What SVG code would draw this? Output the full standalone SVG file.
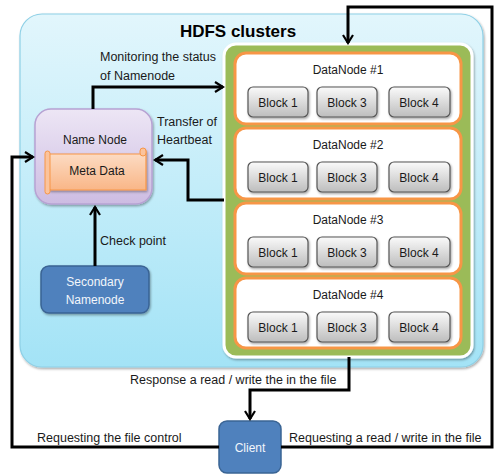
<svg xmlns="http://www.w3.org/2000/svg" width="494" height="474" viewBox="0 0 494 474">
  <defs>
    <linearGradient id="gCluster" x1="0" y1="0" x2="0" y2="1">
      <stop offset="0" stop-color="#E2F6FC"/>
      <stop offset="1" stop-color="#A3E3F6"/>
    </linearGradient>
    <linearGradient id="gBlock" x1="0" y1="0" x2="0" y2="1">
      <stop offset="0" stop-color="#FAFAFA"/>
      <stop offset="1" stop-color="#BDBDBD"/>
    </linearGradient>
    <linearGradient id="gName" x1="0" y1="0" x2="0" y2="1">
      <stop offset="0" stop-color="#EDE6F5"/>
      <stop offset="1" stop-color="#CDBCE2"/>
    </linearGradient>
    <linearGradient id="gMeta" x1="0" y1="0" x2="0" y2="1">
      <stop offset="0" stop-color="#FDE0CB"/>
      <stop offset="1" stop-color="#F9B687"/>
    </linearGradient>
    <filter id="shadow" x="-10%" y="-10%" width="125%" height="130%">
      <feDropShadow dx="1" dy="1.5" stdDeviation="1.2" flood-color="#000" flood-opacity="0.35"/>
    </filter>
    <marker id="arrow" viewBox="0 0 12 12" refX="10" refY="6" markerWidth="12" markerHeight="12" markerUnits="userSpaceOnUse" orient="auto">
      <path d="M2,1 L10,6 L2,11" fill="none" stroke="#000" stroke-width="2.2"/>
    </marker>
    <style>
      text { font-family: "Liberation Sans", Arial, sans-serif; font-size: 12px; fill: #1a1a1a; }
      .title { font-size: 17px; font-weight: bold; fill: #000; }
      .label { font-size: 12.5px; }
      .center { text-anchor: middle; }
      .light { fill: #F2F6FB; }
      .block { fill: url(#gBlock); stroke: #555; stroke-width: 1.2; filter: url(#shadow); }
      .dn { fill: #FFFFFF; stroke: #F79646; stroke-width: 3; }
      .wire { fill: none; stroke: #000; stroke-width: 3; }
    </style>
  </defs>

  <!-- HDFS cluster background -->
  <g id="hdfs-cluster">
    <rect x="20" y="14" width="463" height="353" rx="22" fill="url(#gCluster)" stroke="#8ED0E6" stroke-width="1.2" filter="url(#shadow)"/>
    <text class="title center" x="238" y="37">HDFS clusters</text>
  </g>

  <!-- DataNode rack -->
  <g id="datanode-rack">
    <rect x="224" y="44" width="248" height="313" rx="12" fill="#9BBB59" stroke="#FFFFFF" stroke-width="3" filter="url(#shadow)"/>
  </g>

  <g id="datanode-1">
    <rect class="dn" x="235" y="53" width="226" height="71" rx="11"/>
    <text class="center" x="348" y="74">DataNode #1</text>
    <rect class="block" x="248" y="87" width="60" height="30" rx="5"/><text class="center" x="278" y="107">Block 1</text>
    <rect class="block" x="317" y="87" width="60" height="30" rx="5"/><text class="center" x="347" y="107">Block 3</text>
    <rect class="block" x="389" y="87" width="61" height="30" rx="5"/><text class="center" x="419" y="107">Block 4</text>
  </g>
  <g id="datanode-2">
    <rect class="dn" x="235" y="128" width="226" height="71" rx="11"/>
    <text class="center" x="348" y="149">DataNode #2</text>
    <rect class="block" x="248" y="162" width="60" height="30" rx="5"/><text class="center" x="278" y="182">Block 1</text>
    <rect class="block" x="317" y="162" width="60" height="30" rx="5"/><text class="center" x="347" y="182">Block 3</text>
    <rect class="block" x="389" y="162" width="61" height="30" rx="5"/><text class="center" x="419" y="182">Block 4</text>
  </g>
  <g id="datanode-3">
    <rect class="dn" x="235" y="203" width="226" height="71" rx="11"/>
    <text class="center" x="348" y="224">DataNode #3</text>
    <rect class="block" x="248" y="237" width="60" height="30" rx="5"/><text class="center" x="278" y="257">Block 1</text>
    <rect class="block" x="317" y="237" width="60" height="30" rx="5"/><text class="center" x="347" y="257">Block 3</text>
    <rect class="block" x="389" y="237" width="61" height="30" rx="5"/><text class="center" x="419" y="257">Block 4</text>
  </g>
  <g id="datanode-4">
    <rect class="dn" x="235" y="278" width="226" height="70" rx="11"/>
    <text class="center" x="348" y="299">DataNode #4</text>
    <rect class="block" x="248" y="312" width="60" height="30" rx="5"/><text class="center" x="278" y="332">Block 1</text>
    <rect class="block" x="317" y="312" width="60" height="30" rx="5"/><text class="center" x="347" y="332">Block 3</text>
    <rect class="block" x="389" y="312" width="61" height="30" rx="5"/><text class="center" x="419" y="332">Block 4</text>
  </g>

  <!-- Name Node with its metadata scroll -->
  <g id="name-node">
    <rect x="35" y="109" width="117" height="95" rx="16" fill="url(#gName)" stroke="#B7A2D3" stroke-width="1.5" filter="url(#shadow)"/>
    <text class="center" x="95" y="144">Name Node</text>
    <g id="meta-data">
      <path d="M48,154 H143 V149 a3,3 0 0 1 3,3 V190 H51 a3,3 0 0 1 -3,-3 Z" fill="url(#gMeta)" stroke="#F79646" stroke-width="1.2" filter="url(#shadow)"/>
      <rect x="45" y="151" width="5" height="43" rx="2.5" fill="#FBC39C" stroke="#F79646" stroke-width="1"/>
      <rect x="140" y="148" width="6" height="8" rx="3" fill="#FBC39C" stroke="#F79646" stroke-width="1"/>
      <text class="center" x="97" y="175">Meta Data</text>
    </g>
  </g>

  <!-- Secondary Namenode -->
  <g id="secondary-namenode">
    <rect x="41" y="266" width="108" height="47" rx="8" fill="#4F81BD" stroke="#3A6494" stroke-width="1.5" filter="url(#shadow)"/>
    <text class="center light" x="95" y="286">Secondary</text>
    <text class="center light" x="95" y="304">Namenode</text>
  </g>

  <!-- Client -->
  <g id="client">
    <rect x="219" y="421" width="62" height="52" rx="8" fill="#4F81BD" stroke="#3A6494" stroke-width="1.5"/>
    <text class="center light" x="250" y="452">Client</text>
  </g>

  <!-- Connectors -->
  <g id="connectors">
    <path class="wire" d="M93,109 V87 H223" marker-end="url(#arrow)"/>
    <path class="wire" d="M224,200 H188 V160 H155" marker-end="url(#arrow)"/>
    <path class="wire" d="M95,266 V207" marker-end="url(#arrow)"/>
    <path class="wire" d="M219,447 H12 V157 H33" marker-end="url(#arrow)"/>
    <path class="wire" d="M281,447 H492 V7 H348 V43" marker-end="url(#arrow)"/>
    <path class="wire" d="M349,357 V390 H250 V419" marker-end="url(#arrow)"/>
  </g>

  <!-- Connector labels -->
  <g id="labels">
    <text class="label" x="100" y="61">Monitoring the status</text>
    <text class="label" x="100" y="80">of Namenode</text>
    <text class="label" x="157" y="126">Transfer of</text>
    <text class="label" x="157" y="144">Heartbeat</text>
    <text class="label" x="100" y="245">Check point</text>
    <text class="label" x="130" y="384">Response  a read / write the in the file</text>
    <text class="label" x="37" y="442">Requesting the file control</text>
    <text class="label" x="289" y="442">Requesting  a read / write in the file</text>
  </g>
</svg>
